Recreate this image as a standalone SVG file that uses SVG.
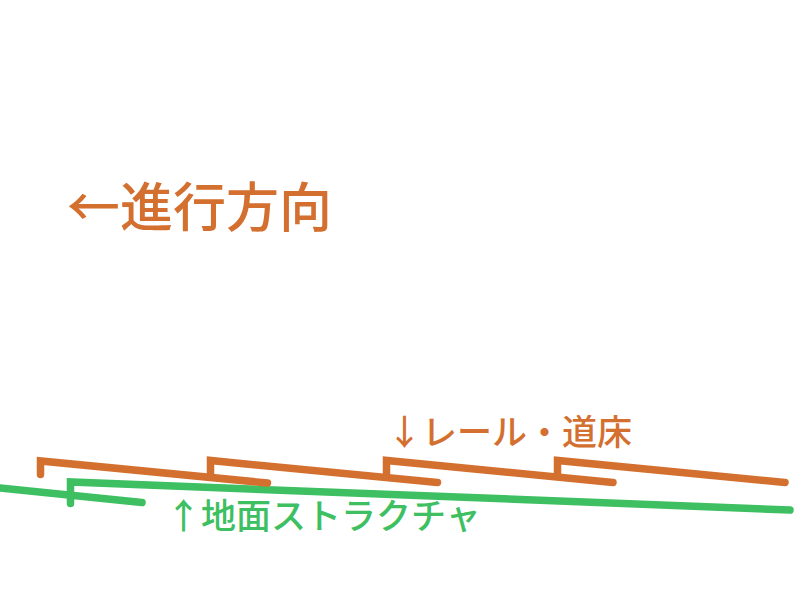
<svg xmlns="http://www.w3.org/2000/svg" width="800" height="600" viewBox="0 0 800 600">
  <style>
    .rail { fill: none; stroke: #D4702F; stroke-width: 7.5; stroke-linecap: round; stroke-linejoin: miter; }
    .ground { fill: none; stroke: #3DBF62; stroke-width: 7.5; stroke-linecap: round; stroke-linejoin: miter; }
    .lbl { font-family: "Noto Sans CJK JP", "Noto Sans", sans-serif; font-weight: 500; }
    .orange { fill: #D4702F; }
    .green { fill: #3DBF62; }
  </style>
  <rect width="800" height="600" fill="#FFFFFF"/>
  <g id="connectors">
    <path class="ground" d="M 0 488 L 142 502.5"/>
    <path class="ground" d="M 70.5 503.5 L 70.5 482 L 790 510"/>
    <path class="rail" d="M 40.5 474.5 L 40.5 461 L 267.5 483"/>
    <path class="rail" d="M 210.5 474 L 210.5 460.5 L 437.5 482.5"/>
    <path class="rail" d="M 386.5 474 L 386.5 460.5 L 613 482.5"/>
    <path class="rail" d="M 557.5 474 L 557.5 460.5 L 785 482.5"/>
  </g>
  <g id="direction">
    <text class="lbl orange" x="67" y="227" font-size="53">←進行方向</text>
  </g>
  <g id="rail-label">
    <text class="lbl orange" x="387" y="445" font-size="35">↓レール・道床</text>
  </g>
  <g id="ground-label">
    <text class="lbl green" x="166" y="529" font-size="35">↑地面ストラクチャ</text>
  </g>
</svg>
